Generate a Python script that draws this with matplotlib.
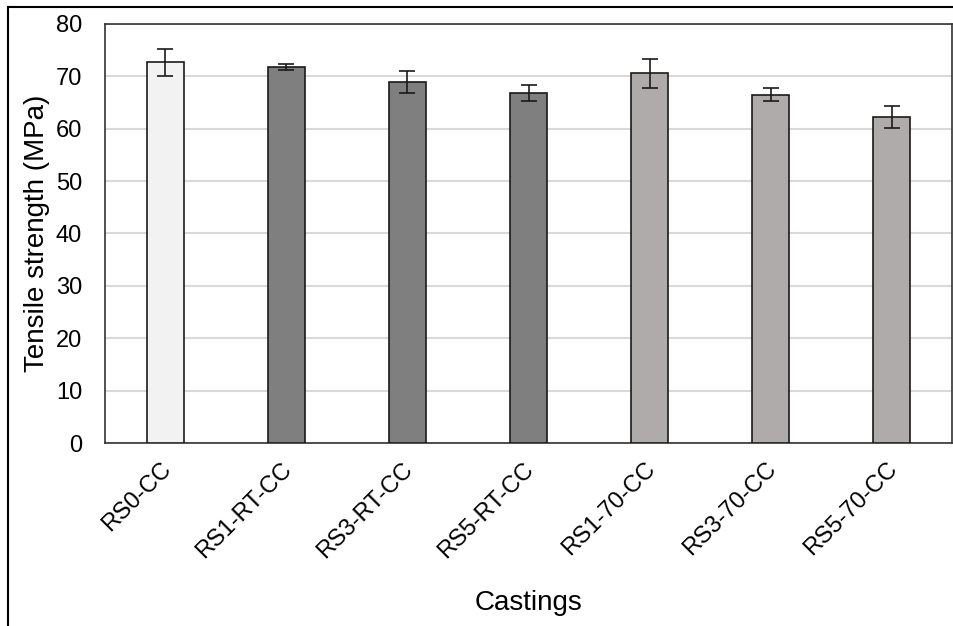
import matplotlib.pyplot as plt
import matplotlib.transforms as mtransforms
from matplotlib.lines import Line2D

plt.rcParams['font.family'] = ['Liberation Sans', 'DejaVu Sans']

# tensile strength per casting, mean and standard deviation (MPa)
castings = ['RS0-CC', 'RS1-RT-CC', 'RS3-RT-CC', 'RS5-RT-CC',
            'RS1-70-CC', 'RS3-70-CC', 'RS5-70-CC']
strength = [72.7, 71.8, 69.0, 66.8, 70.6, 66.5, 62.3]
std_dev = [2.6, 0.5, 2.1, 1.6, 2.8, 1.2, 2.1]
colors = ['#F2F2F2', '#7F7F7F', '#7F7F7F', '#7F7F7F',
          '#AFABAB', '#AFABAB', '#AFABAB']

fig = plt.figure(figsize=(9.54, 6.26), dpi=100)
ax = fig.add_axes([0.110, 0.2923, 0.888, 0.6694])

x = range(len(castings))
ax.bar(x, strength, width=0.31, color=colors, edgecolor='#1a1a1a',
       linewidth=1.2, zorder=3)
ax.errorbar(x, strength, yerr=std_dev, fmt='none', ecolor='#1a1a1a',
            elinewidth=1.2, capsize=5.5, capthick=1.2, zorder=4)

ax.set_xlim(-0.5, len(castings) - 0.5)
ax.set_ylim(0, 80)
ax.set_yticks(range(0, 81, 10))
ax.yaxis.grid(True, color='#D9D9D9', linewidth=1.5, zorder=0)
ax.set_axisbelow(True)

for s in ax.spines.values():
    s.set_color('#333333')
    s.set_linewidth(1.2)

ax.tick_params(axis='y', length=0, pad=16.5, labelsize=17)
ax.tick_params(axis='x', length=0, pad=16.5, labelsize=17)
ax.set_xticks(list(x))
ax.set_xticklabels(castings, rotation=45, ha='right', va='center',
                   rotation_mode='anchor')
shift = mtransforms.ScaledTranslation(1.5 / 72, 0, fig.dpi_scale_trans)
for lbl in ax.get_xticklabels():
    lbl.set_transform(lbl.get_transform() + shift)

ax.set_ylabel('Tensile strength (MPa)', fontsize=20, va='center')
ax.yaxis.set_label_coords(-0.080, 0.5)
ax.set_xlabel('Castings', fontsize=20, va='center')
ax.xaxis.set_label_coords(0.5, -0.382)

# outer frame around the figure (left and top edges)
W, H = 954, 626
fig.add_artist(Line2D([8.5 / W, 8.5 / W], [0, 1 - 6.5 / H],
                      transform=fig.transFigure, color='black', lw=1.5))
fig.add_artist(Line2D([8.5 / W, 1], [1 - 6.5 / H, 1 - 6.5 / H],
                      transform=fig.transFigure, color='black', lw=1.5))

fig.savefig('out.png', dpi=100)
